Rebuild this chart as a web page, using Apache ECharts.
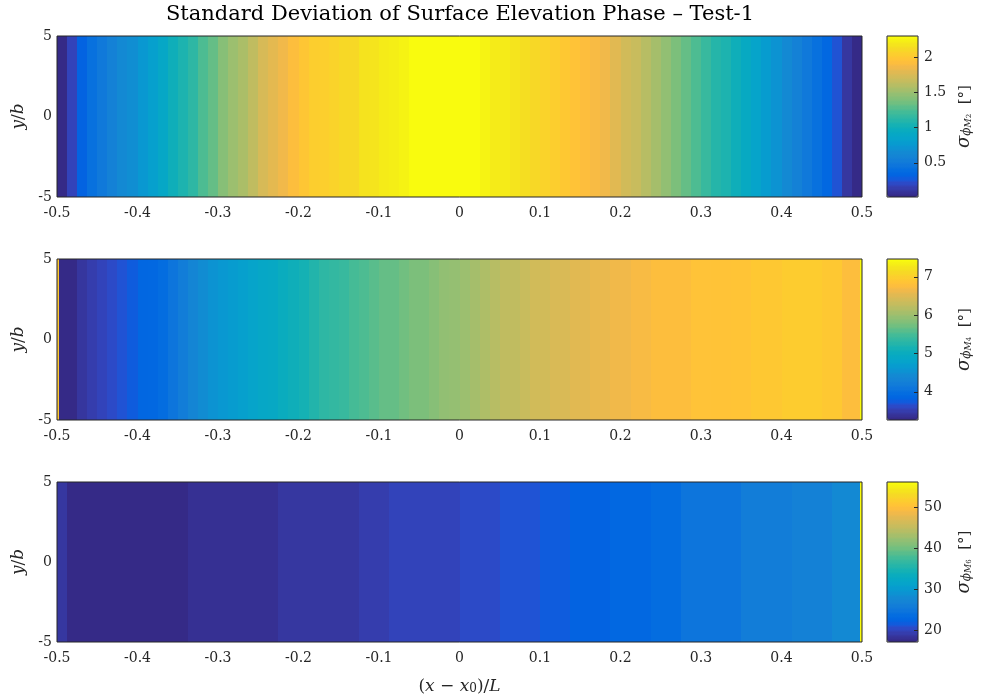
<!DOCTYPE html>
<html><head><meta charset="utf-8">
<script src="https://cdn.jsdelivr.net/npm/echarts@6/dist/echarts.min.js"></script>
<style>html,body{margin:0;padding:0;background:#fff}#c{width:984px;height:699px}</style>
</head><body><div id="c"></div>
<script>
// ---------------- data ----------------
const titleText = 'Standard Deviation of Surface Elevation Phase \u2013 Test-1';
const yTicks = [-5, 0, 5];
const xTickStep = 0.1;
// x cell edges (x - x0)/L : thin edge cells + 0.0125 grid
const xEdges = [-0.5, -0.4975];
for (let i = 0; i <= 78; i++) xEdges.push(+(-0.4875 + 0.0125 * i).toFixed(5));
xEdges.push(0.4975, 0.5);

const sigmaM2 = [0.01,
 0.04, 0.18, 0.32, 0.41, 0.50, 0.57, 0.64, 0.68, 0.75, 0.82,
 0.89, 0.98, 1.07, 1.14, 1.23, 1.32, 1.41, 1.48, 1.55, 1.64,
 1.73, 1.80, 1.87, 1.94, 1.98, 2.03, 2.05, 2.07, 2.09, 2.12,
 2.16, 2.19, 2.21, 2.23, 2.25, 2.28, 2.29, 2.30, 2.30, 2.30,
 2.29, 2.28, 2.25, 2.22, 2.20, 2.17, 2.14, 2.11, 2.07, 2.04,
 2.00, 1.97, 1.94, 1.89, 1.84, 1.78, 1.71, 1.66, 1.59, 1.52,
 1.46, 1.39, 1.32, 1.25, 1.18, 1.11, 1.05, 0.98, 0.91, 0.84,
 0.77, 0.70, 0.64, 0.57, 0.50, 0.43, 0.34, 0.23, 0.09, 0.03,
 0.02];
const sigmaM4 = [6.90,
 3.26, 3.30, 3.39, 3.47, 3.53, 3.60, 3.66, 3.76, 3.85, 3.91,
 3.97, 4.10, 4.23, 4.33, 4.44, 4.52, 4.60, 4.67, 4.73, 4.79,
 4.84, 4.90, 4.98, 5.07, 5.15, 5.23, 5.30, 5.36, 5.42, 5.49,
 5.55, 5.59, 5.63, 5.68, 5.72, 5.76, 5.80, 5.84, 5.89, 5.95,
 6.01, 6.07, 6.14, 6.18, 6.22, 6.26, 6.31, 6.35, 6.39, 6.43,
 6.47, 6.52, 6.54, 6.58, 6.60, 6.62, 6.66, 6.68, 6.70, 6.75,
 6.77, 6.79, 6.79, 6.81, 6.81, 6.83, 6.83, 6.87, 6.87, 6.89,
 6.89, 6.91, 6.94, 6.94, 6.94, 6.94, 6.91, 6.89, 6.79, 6.77,
 7.46];
const sigmaM6 = [18.6,
 18.6, 17.3, 17.3, 17.3, 17.3, 17.3, 17.1, 17.3, 17.3, 17.3,
 17.3, 17.3, 17.3, 18.0, 18.0, 18.0, 18.0, 18.0, 18.0, 18.0,
 18.0, 18.0, 18.6, 18.6, 18.6, 18.6, 18.6, 18.6, 18.6, 18.6,
 19.2, 19.2, 19.2, 19.8, 19.8, 19.8, 19.8, 19.8, 19.8, 19.8,
 20.45, 20.45, 20.45, 20.45, 21.1, 21.1, 21.1, 21.1, 21.7, 21.7,
 21.7, 22.3, 22.3, 22.3, 22.3, 22.9, 22.9, 22.9, 22.9, 23.5,
 23.5, 23.5, 24.7, 24.7, 24.7, 24.7, 24.7, 24.7, 25.9, 25.9,
 25.9, 25.9, 25.9, 26.5, 26.5, 26.5, 26.5, 27.7, 27.7, 27.7,
 56.1];
const cbarTicksM2 = [0.5, 1, 1.5, 2];
const cbarTicksM4 = [4, 5, 6, 7];
const cbarTicksM6 = [20, 30, 40, 50];

// ---------------- style ----------------
const PARULA = [[0.2081,0.1663,0.5292],[0.2116,0.1898,0.5777],[0.2123,0.2138,0.6270],[0.2081,0.2386,0.6771],[0.1959,0.2645,0.7279],[0.1707,0.2919,0.7792],[0.1253,0.3242,0.8303],[0.0591,0.3598,0.8683],[0.0117,0.3875,0.8820],[0.0060,0.4086,0.8828],[0.0165,0.4266,0.8786],[0.0329,0.4430,0.8720],[0.0498,0.4586,0.8641],[0.0629,0.4737,0.8554],[0.0723,0.4887,0.8467],[0.0779,0.5040,0.8384],[0.0793,0.5200,0.8312],[0.0749,0.5375,0.8263],[0.0641,0.5570,0.8240],[0.0488,0.5772,0.8228],[0.0343,0.5966,0.8199],[0.0265,0.6137,0.8135],[0.0239,0.6287,0.8038],[0.0231,0.6418,0.7913],[0.0228,0.6535,0.7768],[0.0267,0.6642,0.7607],[0.0384,0.6743,0.7436],[0.0590,0.6838,0.7254],[0.0843,0.6928,0.7062],[0.1133,0.7015,0.6859],[0.1453,0.7098,0.6646],[0.1801,0.7177,0.6424],[0.2178,0.7250,0.6193],[0.2586,0.7317,0.5954],[0.3022,0.7376,0.5712],[0.3482,0.7424,0.5473],[0.3953,0.7459,0.5244],[0.4420,0.7481,0.5033],[0.4871,0.7491,0.4840],[0.5300,0.7491,0.4661],[0.5709,0.7485,0.4494],[0.6099,0.7473,0.4337],[0.6473,0.7456,0.4188],[0.6834,0.7435,0.4044],[0.7184,0.7411,0.3905],[0.7525,0.7384,0.3768],[0.7858,0.7356,0.3633],[0.8185,0.7327,0.3498],[0.8507,0.7299,0.3360],[0.8824,0.7274,0.3217],[0.9139,0.7258,0.3063],[0.9450,0.7261,0.2886],[0.9739,0.7314,0.2666],[0.9938,0.7455,0.2403],[0.9990,0.7653,0.2164],[0.9955,0.7861,0.1967],[0.9880,0.8066,0.1794],[0.9789,0.8271,0.1633],[0.9697,0.8481,0.1475],[0.9626,0.8705,0.1309],[0.9589,0.8949,0.1132],[0.9598,0.9218,0.0948],[0.9661,0.9514,0.0755],[0.9763,0.9831,0.0538]];
const toHex = c => '#' + c.map(v => Math.round(v * 255).toString(16).padStart(2, '0')).join('');
const stepped = [];
PARULA.forEach(c => { const h = toHex(c); for (let r = 0; r < 8; r++) stepped.push(h); });

const FONT = '"DejaVu Serif", "Liberation Serif", serif';
const TXT = '#262626';

const panels = [
  { vals: sigmaM2, ticks: cbarTicksM2, sub: '2', top: 36, height: 161 },
  { vals: sigmaM4, ticks: cbarTicksM4, sub: '4', top: 259, height: 161 },
  { vals: sigmaM6, ticks: cbarTicksM6, sub: '6', top: 482, height: 160 }
];

const grid = [], xAxis = [], yAxis = [], series = [], visualMap = [];
const gridBox = { show: true, borderColor: '#262626', borderWidth: 1, backgroundColor: 'transparent', z: 10 };

panels.forEach((p, i) => {
  grid.push(Object.assign({ left: 57, top: p.top, width: 805, height: p.height }, gridBox));
  grid.push(Object.assign({ left: 887, top: p.top, width: 31, height: p.height }, gridBox));
  const isLast = i === panels.length - 1;
  xAxis.push({
    gridIndex: 2 * i, type: 'value', min: -0.5, max: 0.5, interval: xTickStep,
    axisLine: { show: false }, axisTick: { show: false }, splitLine: { show: false },
    axisLabel: { margin: 9, fontSize: 14, fontFamily: FONT, color: TXT },
    name: isLast ? '{n|(}{i|x}{n| \u2212 }{i|x}{s|0}{n|)/}{i|L}' : '',
    nameLocation: 'middle', nameGap: 33,
    nameTextStyle: { color: TXT, rich: {
      n: { fontFamily: FONT, fontSize: 17, lineHeight: 20, verticalAlign: 'bottom', color: TXT },
      i: { fontFamily: FONT, fontSize: 17, fontStyle: 'italic', lineHeight: 20, verticalAlign: 'bottom', color: TXT },
      s: { fontFamily: FONT, fontSize: 12, lineHeight: 10, verticalAlign: 'bottom', color: TXT }
    } }
  });
  xAxis.push({ gridIndex: 2 * i + 1, type: 'value', min: 0, max: 1, show: false });
  yAxis.push({
    gridIndex: 2 * i, type: 'value', min: yTicks[0], max: yTicks[yTicks.length - 1], interval: 5,
    axisLine: { show: false }, axisTick: { show: false }, splitLine: { show: false },
    axisLabel: { margin: 5, fontSize: 14, fontFamily: FONT, color: TXT },
    name: '{i|y}{n|/}{i|b}', nameLocation: 'middle', nameGap: 29,
    nameTextStyle: { color: TXT, rich: {
      n: { fontFamily: FONT, fontSize: 17, color: TXT },
      i: { fontFamily: FONT, fontSize: 17, fontStyle: 'italic', color: TXT }
    } }
  });
  const vmin = Math.min(...p.vals), vmax = Math.max(...p.vals);
  yAxis.push({
    gridIndex: 2 * i + 1, type: 'value', position: 'right', min: vmin, max: vmax, z: 12,
    axisLine: { show: false }, splitLine: { show: false },
    axisTick: { show: false },
    axisLabel: { customValues: p.ticks, margin: 6, fontSize: 14, fontFamily: FONT, color: TXT },
    name: '{s|\u03c3}{p|\u03d5}{m|M}{d|' + p.sub + '}{n|  [\u00b0]}', nameLocation: 'middle', nameRotate: 90, nameGap: 33,
    nameTextStyle: { color: TXT, rich: {
      s: { fontFamily: FONT, fontSize: 18, fontStyle: 'italic', lineHeight: 22, verticalAlign: 'bottom', color: TXT },
      p: { fontFamily: FONT, fontSize: 12, fontStyle: 'italic', lineHeight: 14, verticalAlign: 'bottom', color: TXT },
      m: { fontFamily: FONT, fontSize: 9, fontStyle: 'italic', lineHeight: 7, verticalAlign: 'bottom', color: TXT },
      d: { fontFamily: FONT, fontSize: 7, lineHeight: 3, verticalAlign: 'bottom', color: TXT },
      n: { fontFamily: FONT, fontSize: 15, lineHeight: 22, verticalAlign: 'bottom', color: TXT }
    } }
  });
  const data = p.vals.map((v, j) => [xEdges[j], xEdges[j + 1], v]);
  series.push({
    type: 'custom', xAxisIndex: 2 * i, yAxisIndex: 2 * i, clip: true, z: 2,
    encode: { x: [0, 1] }, data: data, silent: true,
    renderItem: function (params, api) {
      const a = api.coord([api.value(0), yTicks[yTicks.length - 1]]);
      const b = api.coord([api.value(1), yTicks[0]]);
      const x0 = Math.round(a[0]), x1 = Math.round(b[0]);
      return { type: 'rect', shape: { x: x0, y: a[1], width: Math.max(x1 - x0, 1), height: b[1] - a[1] },
               style: { fill: api.visual('color') } };
    }
  });
  visualMap.push({
    type: 'continuous', seriesIndex: i, dimension: 2, min: vmin, max: vmax,
    inRange: { color: stepped }, orient: 'vertical', left: 887, top: p.top,
    itemWidth: 31, itemHeight: p.height, padding: 0, calculable: false,
    hoverLink: false, z: 4
  });
});

// colorbar tick marks (inside, on the labelled edge), placed through the colorbar axes
panels.forEach((p, i) => {
  series.push({
    type: 'custom', xAxisIndex: 2 * i + 1, yAxisIndex: 2 * i + 1, z: 20, silent: true,
    encode: { x: 0, y: 1 }, data: p.ticks.map(v => [1, v]),
    renderItem: function (params, api) {
      const pt = api.coord([api.value(0), api.value(1)]);
      const y = Math.round(pt[1]) + 0.5;
      return { type: 'line', shape: { x1: pt[0] - 4, y1: y, x2: pt[0], y2: y },
               style: { stroke: TXT, lineWidth: 1 } };
    }
  });
});

const chart = echarts.init(document.getElementById('c'), null, { renderer: 'canvas' });
chart.setOption({
  animation: false,
  backgroundColor: '#ffffff',
  grid, xAxis, yAxis, series, visualMap,
  graphic: [{ type: 'text', x: 460, y: 15, silent: true,
    style: { text: titleText, fontFamily: FONT, fontSize: 21, fill: '#000', align: 'center', verticalAlign: 'middle' } }]
});
</script></body></html>
